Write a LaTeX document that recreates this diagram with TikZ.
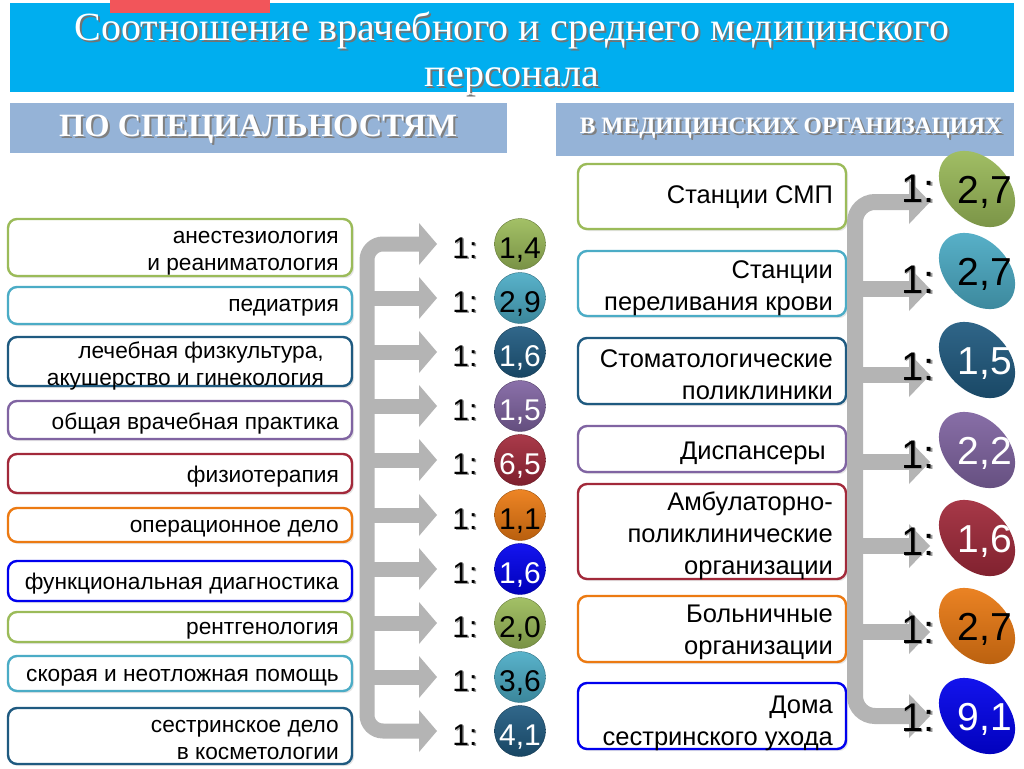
\documentclass[tikz,border=0pt]{standalone}
\usepackage{fontspec}
\setmainfont{Liberation Sans}
\newfontfamily\seriffont{Liberation Serif}
\usetikzlibrary{shapes.geometric,shadows}
\definecolor{banner}{HTML}{00AEEF}
\definecolor{redtab}{HTML}{F2555A}
\definecolor{subhead}{HTML}{95B3D7}
\definecolor{cgreen}{HTML}{9BBB59}
\definecolor{clblue}{HTML}{4BACC6}
\definecolor{cdblue}{HTML}{1F5A80}
\definecolor{cpurple}{HTML}{8064A2}
\definecolor{cred}{HTML}{A2293A}
\definecolor{corange}{HTML}{EC7A12}
\definecolor{cblue}{HTML}{0000EE}
\definecolor{arrowgray}{HTML}{B4B4B4}
\tikzset{
  lbox/.style={draw=#1, line width=2.4pt, rounded corners=9pt, fill=white, inner sep=0pt,
    drop shadow={opacity=0.2, shadow xshift=2pt, shadow yshift=-2pt}},
  ltext/.style={anchor=east, align=right, inner sep=0pt, font=\fontsize{22.7}{27}\selectfont},
  rtext/.style={anchor=east, align=right, inner sep=0pt, font=\fontsize{25.5}{32}\selectfont},
  titletext/.style={text=white, inner sep=0pt, font=\seriffont\fontsize{40}{40}\selectfont},
  titleshadow/.style={text=black!55, inner sep=0pt, font=\seriffont\fontsize{40}{40}\selectfont},
  subtext/.style={text=white, inner sep=0pt, font=\seriffont\bfseries\fontsize{32.5}{32.5}\selectfont},
  subshadow/.style={text=black!50, inner sep=0pt, font=\seriffont\bfseries\fontsize{32.5}{32.5}\selectfont},
  subtextb/.style={text=white, inner sep=0pt, font=\seriffont\bfseries\fontsize{23.5}{23.5}\selectfont},
  subshadowb/.style={text=black!50, inner sep=0pt, font=\seriffont\bfseries\fontsize{23.5}{23.5}\selectfont},
  ratiol/.style={inner sep=0pt, anchor=base, font=\fontsize{30}{30}\selectfont},
  ratior/.style={inner sep=0pt, anchor=base, font=\fontsize{40}{40}\selectfont},
  ball/.style={circle, inner sep=0pt, minimum size=51pt, top color=#1!92!white, bottom color=#1!78!black, draw=#1!65!black, line width=0.4pt},
  oval/.style={ellipse, inner sep=0pt, minimum width=88pt, minimum height=62pt, rotate=-45, top color=#1!92!white, bottom color=#1!78!black},
  numl/.style={inner sep=0pt, anchor=base, font=\fontsize{30}{30}\selectfont, text=#1},
  numr/.style={inner sep=0pt, anchor=base, font=\fontsize{39}{39}\selectfont, text=#1},
  shaft/.style={draw=arrowgray, line width=#1},
}
\begin{document}
\begin{tikzpicture}[x=1pt,y=-1pt]
\useasboundingbox (0,0) rectangle (1024,768);
\fill[white] (0,0) rectangle (1024,768);
% header
\node[fill=banner, minimum width=1004pt, minimum height=89pt, inner sep=0pt] (banner) at (512,47.5) {};
\node[fill=redtab, minimum width=160pt, minimum height=13pt, inner sep=0pt] (tab) at (190,6.5) {};
\node[titleshadow] at (514,32) {Соотношение врачебного и среднего медицинского};
\node[titletext] (t1) at (512,30) {Соотношение врачебного и среднего медицинского};
\node[titleshadow] at (514,83) {персонала};
\node[titletext] (t2) at (512,81) {персонала};
\node[fill=subhead, minimum width=497pt, minimum height=50pt, inner sep=0pt] (sh1) at (258.5,128) {};
\node[fill=subhead, minimum width=458pt, minimum height=53pt, inner sep=0pt] (sh2) at (785,129.5) {};
\node[subshadow] at (260,131) {ПО СПЕЦИАЛЬНОСТЯМ};
\node[subtext] (s1) at (258,129) {ПО СПЕЦИАЛЬНОСТЯМ};
\node[subshadowb] at (793,130) {В МЕДИЦИНСКИХ ОРГАНИЗАЦИЯХ};
\node[subtextb] (s2) at (791,128) {В МЕДИЦИНСКИХ ОРГАНИЗАЦИЯХ};

% left boxes
\node[lbox=cgreen,  minimum width=344pt, minimum height=57pt] (L1) at (180,247.5) {};
\node[lbox=clblue,  minimum width=344pt, minimum height=37pt] (L2) at (180,305.5) {};
\node[lbox=cdblue,  minimum width=344pt, minimum height=49pt] (L3) at (180,361.5) {};
\node[lbox=cpurple, minimum width=344pt, minimum height=38pt] (L4) at (180,420) {};
\node[lbox=cred,    minimum width=344pt, minimum height=39pt] (L5) at (180,473.5) {};
\node[lbox=corange, minimum width=344pt, minimum height=34pt] (L6) at (180,525) {};
\node[lbox=cblue,   minimum width=344pt, minimum height=40pt] (L7) at (180,581) {};
\node[lbox=cgreen,  minimum width=344pt, minimum height=30pt] (L8) at (180,627) {};
\node[lbox=clblue,  minimum width=344pt, minimum height=35pt] (L9) at (180,673.5) {};
\node[lbox=cdblue,  minimum width=344pt, minimum height=56pt] (L10) at (180,736) {};
\node[ltext] (L1t) at (339,253) {анестезиология\\ и реаниматология};
\node[ltext] (L2t) at (339,308) {педиатрия};
\node[ltext] (L3t) at (324,366) {лечебная физкультура,\\ акушерство и гинекология};
\node[ltext] (L4t) at (339,424) {общая врачебная практика};
\node[ltext] (L5t) at (339,477) {физиотерапия};
\node[ltext] (L6t) at (339,529) {операционное дело};
\node[ltext] (L7t) at (339,584) {функциональная диагностика};
\node[ltext] (L8t) at (339,631) {рентгенология};
\node[ltext] (L9t) at (339,678) {скорая и неотложная помощь};
\node[ltext] (L10t) at (339,740) {сестринское дело\hspace{8pt}\\ в косметологии};

% right boxes
\node[lbox=cgreen,  minimum width=268pt, minimum height=65pt] (R1) at (712,196.5) {};
\node[lbox=clblue,  minimum width=268pt, minimum height=65pt] (R2) at (712,283.5) {};
\node[lbox=cdblue,  minimum width=268pt, minimum height=66pt] (R3) at (712,371) {};
\node[lbox=cpurple, minimum width=268pt, minimum height=46pt] (R4) at (712,449) {};
\node[lbox=cred,    minimum width=268pt, minimum height=95pt] (R5) at (712,531.5) {};
\node[lbox=corange, minimum width=268pt, minimum height=66pt] (R6) at (712,629) {};
\node[lbox=cblue,   minimum width=268pt, minimum height=66pt] (R7) at (712,716) {};
\node[rtext] (R1t) at (833,197) {Станции СМП};
\node[rtext] (R2t) at (833,288) {Станции\hspace{7pt}\\ переливания крови};
\node[rtext] (R3t) at (833,375) {Стоматологические\\ поликлиники};
\node[rtext] (R4t) at (826,453) {Диспансеры};
\node[rtext] (R5t) at (833,536) {Амбулаторно-\\ поликлинические\\ организации};
\node[rtext] (R6t) at (833,632) {Больничные\hspace{7pt}\\ организации};
\node[rtext] (R7t) at (833,723) {Дома\\ сестринского ухода};

% left arrow tree
\coordinate (lbartop) at (367,244);
\coordinate (lbarbot) at (367,731);
\foreach \y [count=\i] in {244,298,352,406,460,515,569,623,677,731} {
  \coordinate (lb\i) at (367,\y);
  \coordinate (lh\i) at (419,\y);
  \coordinate (la\i) at (437,\y);
}
\draw[shaft=15pt, rounded corners=16pt] (lh1) -- (lbartop) -- (lbarbot) -- (lh10);
\foreach \i in {2,...,9} { \draw[shaft=15pt] (lb\i) -- (lh\i); }
\foreach \i in {1,...,10} {
  \fill[arrowgray] ([yshift=-21pt]lh\i) -- (la\i) -- ([yshift=21pt]lh\i) -- cycle;
}

% right arrow tree
\coordinate (rbartop) at (855,202);
\coordinate (rbarbot) at (855,716);
\foreach \y [count=\i] in {202,289,375,462,546,632,716} {
  \coordinate (rb\i) at (855,\y);
  \coordinate (rh\i) at (909,\y);
  \coordinate (ra\i) at (930,\y);
}
\draw[shaft=16pt, rounded corners=20pt] (rh1) -- (rbartop) -- (rbarbot) -- (rh7);
\foreach \i in {2,...,6} { \draw[shaft=16pt] (rb\i) -- (rh\i); }
\foreach \i in {1,...,7} {
  \fill[arrowgray] ([yshift=-22pt]rh\i) -- (ra\i) -- ([yshift=22pt]rh\i) -- cycle;
}

% left ratios
\foreach \y/\c/\n/\t [count=\i] in {244/cgreen/{1,4}/black, 298/clblue/{2,9}/black, 352/cdblue/{1,6}/white, 406/cpurple/{1,5}/white, 460/cred/{6,5}/white, 515/corange/{1,1}/black, 569/cblue/{1,6}/white, 623/cgreen/{2,0}/black, 677/clblue/{3,6}/black, 731/cdblue/{4,1}/white} {
  \node[ratiol, text=black!40] at (466.5,\y+15.5) {1:};
  \node[ratiol] (lr\i) at (465,\y+14) {1:};
  \node[ball=\c] (lc\i) at (520,\y) {};
  \node[numl=\t] (ln\i) at (520,\y+14) {\n};
}

% right ratios
\foreach \y/\ty/\c/\n/\t [count=\i] in {189/187/cgreen/{2,7}/black, 271/278/clblue/{2,7}/black, 360/365/cdblue/{1,5}/white, 450/453/cpurple/{2,2}/white, 538/540/cred/{1,6}/white, 626/628/corange/{2,7}/black, 716/716/cblue/{9,1}/white} {
  \node[oval=\c] (ro\i) at (977,\y) {};
  \node[numr=\t] (rn\i) at (985,\y+14) {\n};
  \node[ratior, text=black!40] at (919.5,\ty+16.5) {1:};
  \node[ratior] (rr\i) at (918,\ty+15) {1:};
}
\end{tikzpicture}
\end{document}
